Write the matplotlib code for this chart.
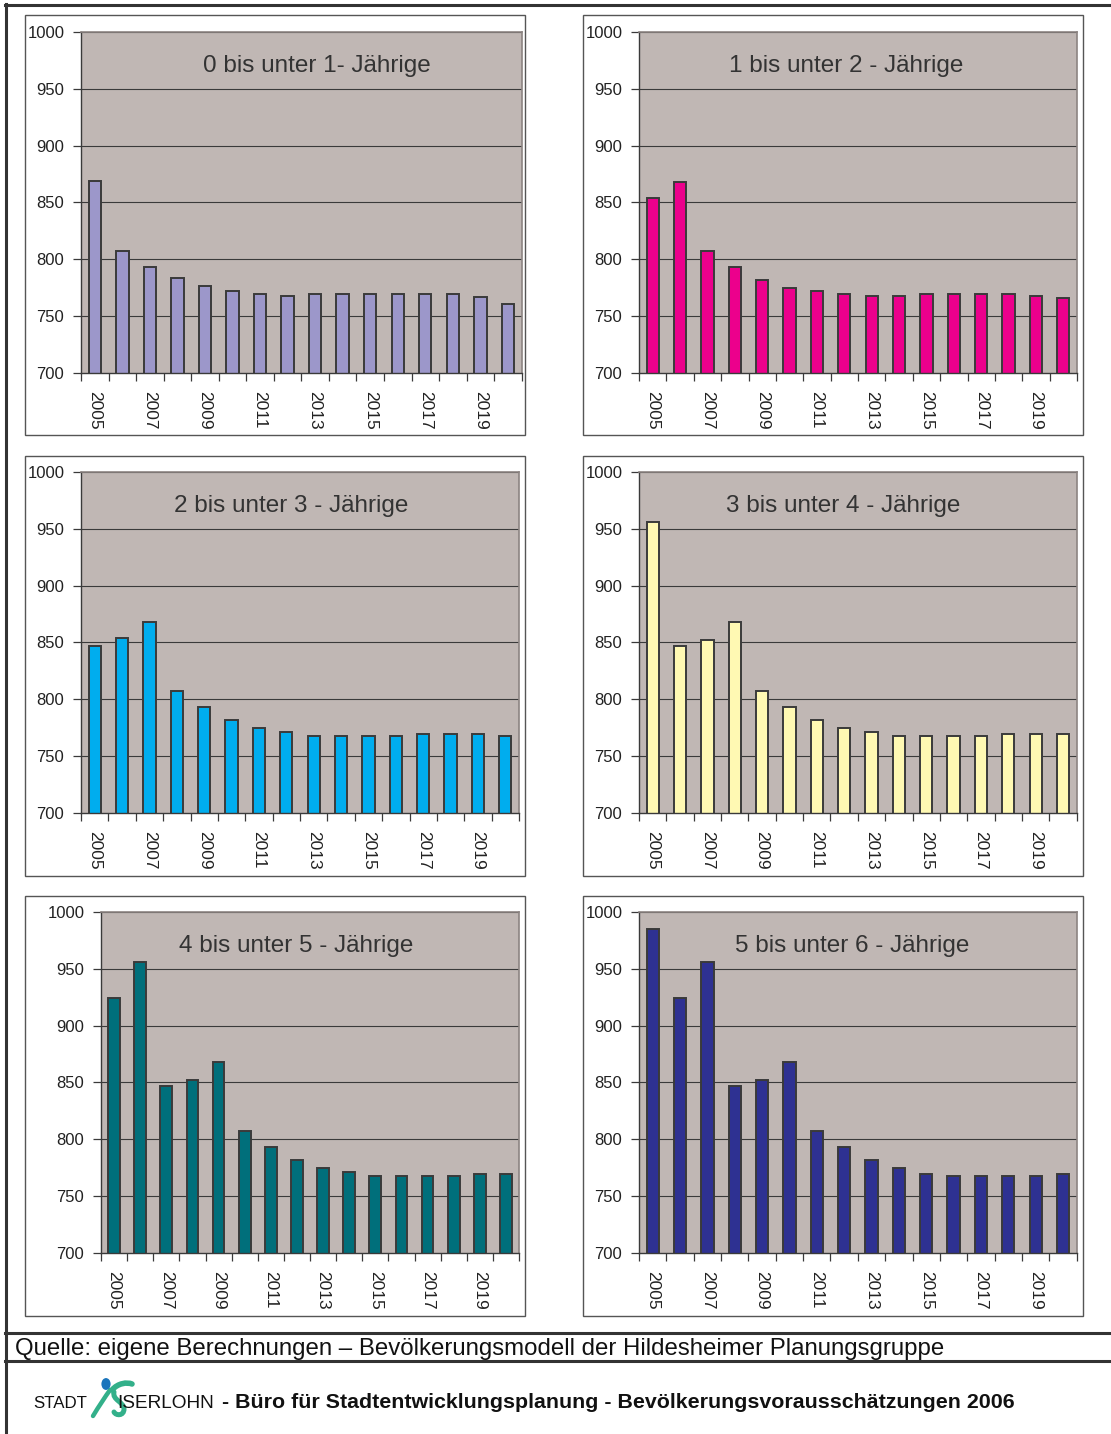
import numpy as np
import matplotlib
matplotlib.use("Agg")
import matplotlib.pyplot as plt
from matplotlib.patches import Rectangle, Circle, PathPatch
from matplotlib.path import Path
from matplotlib.lines import Line2D

plt.rcParams['font.family'] = ['Liberation Sans', 'DejaVu Sans']

# ---- data -------------------------------------------------------------
years = list(range(2005, 2021))
year_labels = [str(y) for y in years[::2]]

age_0_1 = [869, 807, 793, 784, 777, 772, 770, 768, 770, 770, 770, 770, 770, 770, 767, 761]
age_1_2 = [854, 868, 807, 793, 782, 775, 772, 770, 768, 768, 770, 770, 770, 770, 768, 766]
age_2_3 = [847, 854, 868, 807, 793, 782, 775, 771, 768, 768, 768, 768, 770, 770, 770, 768]
age_3_4 = [956, 847, 852, 868, 807, 793, 782, 775, 771, 768, 768, 768, 768, 770, 770, 770]
age_4_5 = [924, 956, 847, 852, 868, 807, 793, 782, 775, 771, 768, 768, 768, 768, 770, 770]
age_5_6 = [985, 924, 956, 847, 852, 868, 807, 793, 782, 775, 770, 768, 768, 768, 768, 770]

titles = ["0 bis unter 1- Jährige", "1 bis unter 2 - Jährige",
          "2 bis unter 3 - Jährige", "3 bis unter 4 - Jährige",
          "4 bis unter 5 - Jährige", "5 bis unter 6 - Jährige"]
series = [age_0_1, age_1_2, age_2_3, age_3_4, age_4_5, age_5_6]
colors = ["#9C97CA", "#EC008C", "#00ADEE", "#FFF9B3", "#006F7B", "#2E3192"]

y_ticks = [700, 750, 800, 850, 900, 950, 1000]

source_text = "Quelle: eigene Berechnungen – Bevölkerungsmodell der Hildesheimer Planungsgruppe"
footer_text = "- Büro für Stadtentwicklungsplanung - Bevölkerungsvorausschätzungen 2006"

# ---- figure -----------------------------------------------------------
W, H = 1111, 1434
fig = plt.figure(figsize=(W / 100, H / 100), dpi=100)
fig.patch.set_facecolor("white")


def fx(x):
    return x / W


def fy(y):
    return 1 - y / H


def add_axes_px(l, t, r, b):
    return fig.add_axes([fx(l), fy(b), (r - l) / W, (b - t) / H])


def hline(y, x0, x1, lw=2.2, color="#333333"):
    fig.add_artist(Line2D([fx(x0), fx(x1)], [fy(y), fy(y)], lw=lw,
                          color=color, transform=fig.transFigure))


def vline(x, y0, y1, lw=2.2, color="#333333"):
    fig.add_artist(Line2D([fx(x), fx(x)], [fy(y0), fy(y1)], lw=lw,
                          color=color, transform=fig.transFigure))


# outer frame
hline(5, 5, W)
vline(6, 4, H)
hline(1333, 5, W)
hline(1360.5, 5, W)

# panel boxes (left, top, right, bottom) and plot areas
boxes = [(25, 15, 525, 435), (583, 15, 1083, 435),
         (25, 456, 525, 876), (583, 456, 1083, 876),
         (25, 896, 525, 1316), (583, 896, 1083, 1316)]
plot_areas = [(81, 31.7, 521.7, 373.3), (639, 31.7, 1077, 373.3),
              (81, 471.7, 519, 813.3), (639, 471.7, 1076.7, 813.3),
              (101, 911.7, 519, 1253.3), (639, 911.7, 1076.7, 1253.3)]
title_pos = [0.535, 0.472, 0.481, 0.466, 0.468, 0.486]

for (l, t, r, b) in boxes:
    fig.add_artist(Rectangle((fx(l), fy(b)), (r - l) / W, (b - t) / H,
                             transform=fig.transFigure, fill=False,
                             edgecolor="#555555", lw=1.0))

x = np.arange(len(years))
for area, vals, col, title, tx in zip(plot_areas, series, colors, titles, title_pos):
    ax = add_axes_px(*area)
    ax.set_facecolor("#C0B7B4")
    ax.set_ylim(700, 1000)
    ax.set_xlim(-0.5, len(years) - 0.5)
    ax.set_yticks(y_ticks)
    ax.set_yticklabels([str(v) for v in y_ticks])
    for v in y_ticks[1:]:
        ax.axhline(v, color="#3a3a3a", lw=0.8, zorder=1)
    ax.bar(x, vals, width=0.45, color=col, edgecolor="#3a3a3a",
           linewidth=1.4, zorder=2)

    # category boundaries carry the tick marks, labels sit under every other bar
    ax.set_xticks(np.arange(-0.5, len(years), 1.0))
    ax.set_xticklabels([])
    ax.set_xticks(x[::2], minor=True)
    ax.set_xticklabels(year_labels, minor=True, rotation=270,
                       fontsize=12.5, color="#222222")
    ax.tick_params(axis="x", which="major", length=6, width=0.9,
                   color="#3a3a3a", direction="out")
    ax.tick_params(axis="x", which="minor", length=0, pad=13)
    ax.tick_params(axis="y", length=6, width=0.9, color="#3a3a3a",
                   direction="out", pad=6, labelsize=12, labelcolor="#222222")

    for s in ("left", "bottom"):
        ax.spines[s].set_color("#3a3a3a")
        ax.spines[s].set_linewidth(1.0)
    for s in ("top", "right"):
        ax.spines[s].set_color("#8c8482")
        ax.spines[s].set_linewidth(1.2)

    ax.text(tx, 0.9, title, transform=ax.transAxes, ha="center",
            va="center", fontsize=17.5, color="#333333", zorder=3)

# ---- footer -----------------------------------------------------------
renderer = fig.canvas.get_renderer()


def fit_text(x0, x1, y, s, weight="normal", base=12):
    t = fig.text(fx(x0), fy(y), s, ha="left", va="baseline",
                 fontsize=base, fontweight=weight, color="#111111")
    size = base
    for _ in range(3):
        w = t.get_window_extent(renderer).width
        size = size * (x1 - x0) / w
        t.set_fontsize(size)
    return t


fit_text(15, 945, 1355, source_text, base=15)
fit_text(33, 87, 1408, "STADT", base=12)
fit_text(117, 214, 1408, "ISERLOHN", base=12)
fit_text(222, 1010, 1408, footer_text, weight="bold", base=12)


# city logo: green strokes with a blue dot
def to_fig(verts, codes):
    v = np.array(verts, dtype=float)
    v[:, 0] = v[:, 0] / W
    v[:, 1] = 1 - v[:, 1] / H
    return Path(v, codes)


green = "#33B08A"
strokes = [
    ([(93, 1416), (99, 1406), (105, 1397), (110, 1390)],
     [Path.MOVETO, Path.CURVE4, Path.CURVE4, Path.CURVE4], 3.2),
    ([(112, 1390), (118, 1383), (127, 1382), (132, 1384)],
     [Path.MOVETO, Path.CURVE4, Path.CURVE4, Path.CURVE4], 4.0),
    ([(114, 1392), (112, 1400), (124, 1402), (124, 1409),
      (124, 1416), (116, 1416), (114, 1412)],
     [Path.MOVETO, Path.CURVE4, Path.CURVE4, Path.CURVE4,
      Path.CURVE4, Path.CURVE4, Path.CURVE4], 3.6),
]
for verts, codes, lw in strokes:
    fig.add_artist(PathPatch(to_fig(verts, codes), facecolor="none",
                             edgecolor=green, lw=lw, capstyle="round",
                             transform=fig.transFigure))
fig.add_artist(Circle((fx(106), fy(1384)), 4.6 / W, facecolor="#1B75BC",
                      edgecolor="none", transform=fig.transFigure))

fig.savefig("out.png", dpi=100, facecolor="white")
